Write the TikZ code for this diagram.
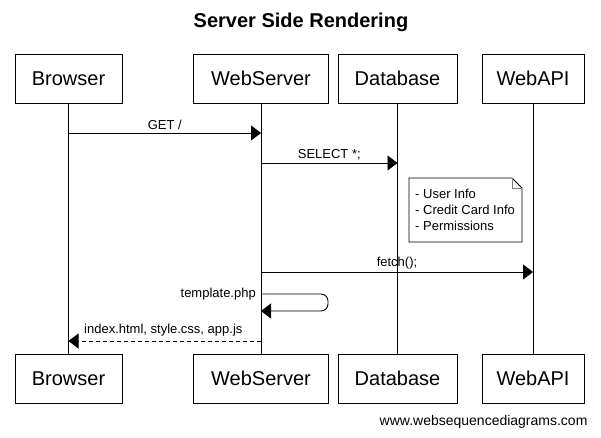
\documentclass[tikz,border=0pt]{standalone}
\usepackage{fontspec}
\setmainfont{Liberation Sans}
\usetikzlibrary{arrows.meta}
\begin{document}
\begin{tikzpicture}[x=1pt,y=-1pt,
  actor/.style={draw,line width=0.9pt,minimum width=#1,minimum height=49pt,inner sep=0pt,font=\fontsize{20}{24}\selectfont},
  lifeline/.style={line width=0.9pt},
  msg/.style={line width=0.9pt,-{Triangle[length=10pt,width=15pt]}},
  reply/.style={msg,dash pattern=on 4pt off 3pt},
  mlabel/.style={font=\fontsize{13}{15}\selectfont,inner sep=0pt},
  notetext/.style={font=\fontsize{13}{16}\selectfont,align=left,inner sep=0pt,anchor=north west}]
\useasboundingbox (0,0) rectangle (601,437);
\fill[white] (0,0) rectangle (601,437);
\node[font=\bfseries\fontsize{20}{24}\selectfont] (title) at (301,22.5) {Server Side Rendering};
% top actors
\node[actor=107pt] (bt) at (68.5,78.5) {Browser};
\node[actor=135pt] (wt) at (261,78.5) {WebServer};
\node[actor=119pt] (dt) at (397.5,78.5) {Database};
\node[actor=102pt] (at) at (533,78.5) {WebAPI};
% bottom actors
\node[actor=107pt] (bb) at (68.5,378.5) {Browser};
\node[actor=135pt] (wb) at (261,378.5) {WebServer};
\node[actor=119pt] (db) at (397.5,378.5) {Database};
\node[actor=102pt] (ab) at (533,378.5) {WebAPI};
% lifelines
\draw[lifeline] (bt.south) -- (bb.north);
\draw[lifeline] (wt.south) -- (wb.north);
\draw[lifeline] (dt.south) -- (db.north);
\draw[lifeline] (at.south) -- (ab.north);
% message points
\coordinate (b1) at (68.5,133);
\coordinate (w1) at (261,133);
\coordinate (w2) at (261,163);
\coordinate (d2) at (397.5,163);
\coordinate (w3) at (261,272);
\coordinate (a3) at (533,272);
\coordinate (w4) at (261,294);
\coordinate (s4) at (328,294);
\coordinate (s5) at (328,311);
\coordinate (w5) at (261,311);
\coordinate (w6) at (261,341);
\coordinate (b6) at (68.5,341);
% messages
\draw[msg] (b1) -- node[mlabel,above=2.5pt] (l1) {GET /} (w1);
\draw[msg] (w2) -- node[mlabel,above=2.5pt] (l2) {SELECT *;} (d2);
\draw[msg] (w3) -- node[mlabel,above=2.5pt] (l3) {fetch();} (a3);
\draw[msg,rounded corners=7pt] (w4) -- (s4) -- (s5) -- (w5);
\node[mlabel,anchor=east] (l4) at (256,294) {template.php};
\draw[reply] (w6) -- (b6);
\node[mlabel,anchor=south west] (l6) at (84,336) {index.html, style.css, app.js};
% note
\draw[line width=0.9pt,fill=white] (409,178) -- (512,178) -- (522,188) -- (522,242) -- (409,242) -- cycle;
\draw[gray,line width=0.7pt] (512,178) -- (512,188) -- (522,188);
\node[notetext] (note) at (415,188.5) {- User Info\\- Credit Card Info\\- Permissions};
% footer
\node[font=\fontsize{14}{17}\selectfont,anchor=east] (footer) at (591,422) {www.websequencediagrams.com};
\end{tikzpicture}
\end{document}
